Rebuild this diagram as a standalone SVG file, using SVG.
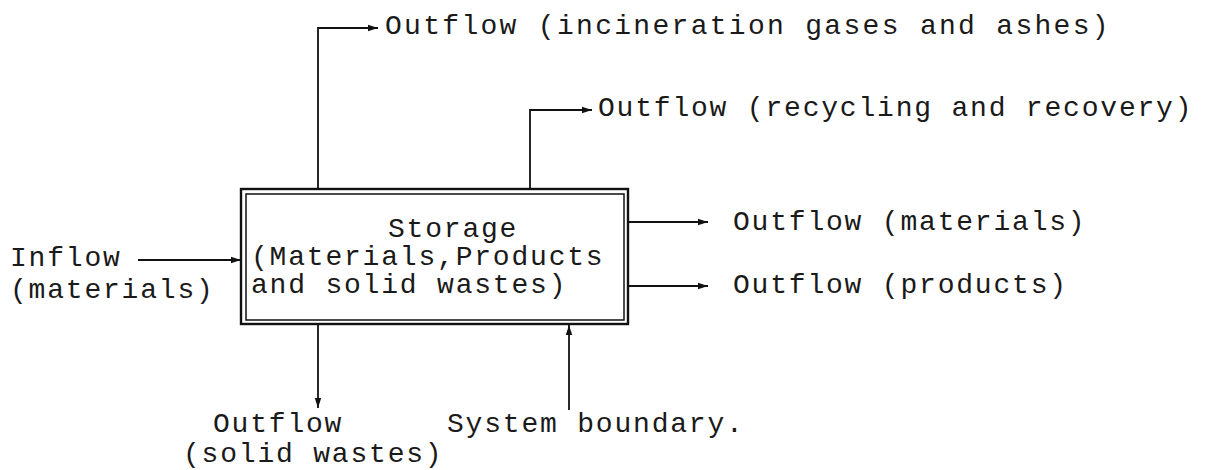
<svg xmlns="http://www.w3.org/2000/svg" width="1216" height="470" viewBox="0 0 1216 470">
  <style>
    text { font-family: "Liberation Mono", "Courier New", monospace; font-size: 28px; letter-spacing: 1.8px; fill: #1a1a1a; }
    .wide { letter-spacing: 2.3px; }
    .flow { fill: none; stroke: #111; stroke-width: 1.8; }
    .frame { fill: none; stroke: #111; }
  </style>
  <defs>
    <marker id="head" viewBox="0 0 10 8" refX="10" refY="4" markerWidth="10" markerHeight="8" markerUnits="userSpaceOnUse" orient="auto">
      <path d="M0,0.8 L10,4 L0,7.2 Z" fill="#111"/>
    </marker>
  </defs>

  <!-- storage node: double-lined box -->
  <g id="storage">
    <rect class="frame" x="241" y="189" width="387" height="135" stroke-width="2.4"/>
    <rect class="frame" x="246" y="194" width="378" height="126" stroke-width="1.5"/>
    <text x="388" y="237">Storage</text>
    <text x="251" y="265">(Materials,Products</text>
    <text x="251" y="293">and solid wastes)</text>
  </g>

  <g id="inflow">
    <text x="10" y="266">Inflow</text>
    <text x="10" y="298">(materials)</text>
  </g>

  <g id="out-incineration">
    <text class="wide" x="385" y="34">Outflow (incineration gases and ashes)</text>
  </g>

  <g id="out-recycling">
    <text x="598" y="116">Outflow (recycling and recovery)</text>
  </g>

  <g id="out-materials">
    <text x="733" y="230">Outflow (materials)</text>
  </g>

  <g id="out-products">
    <text x="733" y="293">Outflow (products)</text>
  </g>

  <g id="out-solid">
    <text x="213" y="432">Outflow</text>
    <text x="183" y="462">(solid wastes)</text>
  </g>

  <g id="boundary">
    <text x="447" y="432">System boundary.</text>
  </g>

  <!-- connectors -->
  <g id="connectors">
    <path class="flow" d="M138,260 H241" marker-end="url(#head)"/>
    <path class="flow" d="M318,189 V28 H378" marker-end="url(#head)"/>
    <path class="flow" d="M530,189 V110 H592" marker-end="url(#head)"/>
    <path class="flow" d="M628,222 H708" marker-end="url(#head)"/>
    <path class="flow" d="M628,286 H708" marker-end="url(#head)"/>
    <path class="flow" d="M318,324 V408" marker-end="url(#head)"/>
    <path class="flow" d="M569,410 V325" marker-end="url(#head)"/>
  </g>
</svg>
